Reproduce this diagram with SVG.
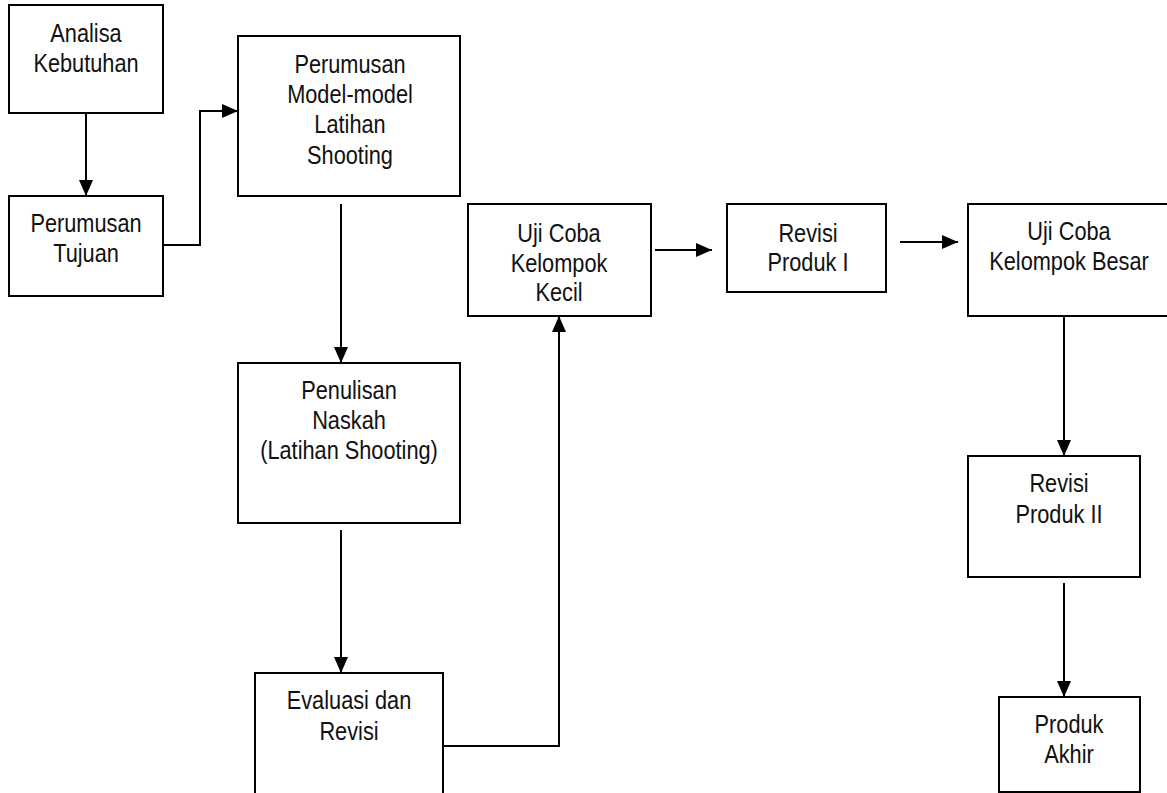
<svg xmlns="http://www.w3.org/2000/svg" width="1167" height="793" viewBox="0 0 1167 793">
<style>
.box{fill:#fff;stroke:#000;stroke-width:2}
.lbl{font-family:"Liberation Sans",Arial,sans-serif;font-size:25px;fill:#111;text-anchor:middle}
.con{fill:none;stroke:#000;stroke-width:2}
</style>
<defs>
<marker id="ah" markerUnits="userSpaceOnUse" markerWidth="16" markerHeight="14" refX="16" refY="7" orient="auto">
<path d="M0,0 L16,7 L0,14 Z" fill="#000"/>
</marker>
</defs>
<rect width="1167" height="793" fill="#fff"/>
<g id="connectors">
<path class="con" d="M86,113 V196" marker-end="url(#ah)"/>
<path class="con" d="M163,245 H200 V111 H238" marker-end="url(#ah)"/>
<path class="con" d="M341,204 V363" marker-end="url(#ah)"/>
<path class="con" d="M341,530 V673" marker-end="url(#ah)"/>
<path class="con" d="M443,746 H559 V316" marker-end="url(#ah)"/>
<path class="con" d="M655,250 H712" marker-end="url(#ah)"/>
<path class="con" d="M900,242 H958" marker-end="url(#ah)"/>
<path class="con" d="M1064,316 V456" marker-end="url(#ah)"/>
<path class="con" d="M1064,583 V697" marker-end="url(#ah)"/>
</g>
<g id="analisa">
<rect class="box" x="9" y="5" width="154" height="108"/>
<text class="lbl" transform="translate(86 42) scale(0.87 1)">Analisa</text>
<text class="lbl" transform="translate(86 72) scale(0.87 1)">Kebutuhan</text>
</g>
<g id="tujuan">
<rect class="box" x="9" y="196" width="154" height="100"/>
<text class="lbl" transform="translate(86 232) scale(0.87 1)">Perumusan</text>
<text class="lbl" transform="translate(86 262) scale(0.87 1)">Tujuan</text>
</g>
<g id="model">
<rect class="box" x="238" y="36" width="222" height="160"/>
<text class="lbl" transform="translate(350 73) scale(0.87 1)">Perumusan</text>
<text class="lbl" transform="translate(350 103) scale(0.87 1)">Model-model</text>
<text class="lbl" transform="translate(350 133) scale(0.87 1)">Latihan</text>
<text class="lbl" transform="translate(350 164) scale(0.87 1)">Shooting</text>
</g>
<g id="penulisan">
<rect class="box" x="238" y="363" width="222" height="160"/>
<text class="lbl" transform="translate(349 399) scale(0.87 1)">Penulisan</text>
<text class="lbl" transform="translate(349 429) scale(0.87 1)">Naskah</text>
<text class="lbl" transform="translate(349 459) scale(0.87 1)">(Latihan Shooting)</text>
</g>
<g id="evaluasi">
<rect class="box" x="255" y="673" width="188" height="140"/>
<text class="lbl" transform="translate(349 709) scale(0.87 1)">Evaluasi dan</text>
<text class="lbl" transform="translate(349 740) scale(0.87 1)">Revisi</text>
</g>
<g id="kecil">
<rect class="box" x="468" y="204" width="183" height="112"/>
<text class="lbl" transform="translate(559 242) scale(0.87 1)">Uji Coba</text>
<text class="lbl" transform="translate(559 272) scale(0.87 1)">Kelompok</text>
<text class="lbl" transform="translate(559 301) scale(0.87 1)">Kecil</text>
</g>
<g id="revisi1">
<rect class="box" x="727" y="204" width="159" height="88"/>
<text class="lbl" transform="translate(808 242) scale(0.87 1)">Revisi</text>
<text class="lbl" transform="translate(808 271) scale(0.87 1)">Produk I</text>
</g>
<g id="besar">
<rect class="box" x="968" y="204" width="220" height="112"/>
<text class="lbl" transform="translate(1069 240) scale(0.87 1)">Uji Coba</text>
<text class="lbl" transform="translate(1069 270) scale(0.87 1)">Kelompok Besar</text>
</g>
<g id="revisi2">
<rect class="box" x="968" y="456" width="172" height="121"/>
<text class="lbl" transform="translate(1059 492) scale(0.87 1)">Revisi</text>
<text class="lbl" transform="translate(1059 523) scale(0.87 1)">Produk II</text>
</g>
<g id="akhir">
<rect class="box" x="999" y="697" width="141" height="95"/>
<text class="lbl" transform="translate(1069 733) scale(0.87 1)">Produk</text>
<text class="lbl" transform="translate(1069 763) scale(0.87 1)">Akhir</text>
</g>
</svg>
